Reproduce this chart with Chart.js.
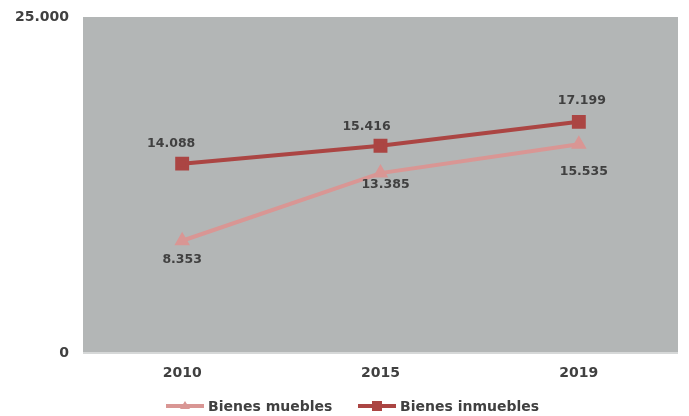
<!DOCTYPE html>
<html>
<head>
<meta charset="utf-8">
<script src="https://cdn.jsdelivr.net/npm/chart.js@4/dist/chart.umd.min.js"></script>
<style>
  html, body { margin: 0; padding: 0; background: #fff; }
  #wrap { width: 689px; height: 416px; }
</style>
</head>
<body>
<div id="wrap"><canvas id="myChart"></canvas></div>
<script>
var years = ["2010", "2015", "2019"];
var muebles = [8353, 13385, 15535];
var inmuebles = [14088, 15416, 17199];
var yTicks = [0, 25000];

var colMuebles = "#d99694";
var colInmuebles = "#ab4543";
var txt = "#404040";
var fontFam = "'DejaVu Sans', Verdana, sans-serif";

function fmt(v) {
  return v.toLocaleString("de-DE");
}

// label offsets per point [dx, dy]
var labelOffsets = [
  [[0, 19], [5, 12], [5, 28]],
  [[-11, -20], [-14, -19], [3, -21]]
];

var plotBg = {
  id: "plotBg",
  beforeDraw: function (chart) {
    var a = chart.chartArea, c = chart.ctx;
    c.save();
    c.fillStyle = "#b3b6b6";
    c.fillRect(a.left, a.top, a.right - a.left, a.bottom - a.top);
    c.fillStyle = "#d6d8d8";
    c.fillRect(a.left, a.bottom - 1, a.right - a.left, 2);
    c.restore();
  },
  afterDatasetsDraw: function (chart) {
    var c = chart.ctx;
    c.save();
    c.font = "bold 12.5px " + fontFam;
    c.fillStyle = txt;
    c.textAlign = "center";
    c.textBaseline = "middle";
    chart.data.datasets.forEach(function (ds, i) {
      chart.getDatasetMeta(i).data.forEach(function (pt, j) {
        var o = labelOffsets[i][j];
        c.fillText(fmt(ds.data[j]), pt.x + o[0], pt.y + o[1]);
      });
    });
    // legend
    var y = 406;
    var items = [[166, 0], [358, 1]];
    c.font = "bold 14px " + fontFam;
    c.textAlign = "left";
    items.forEach(function (it) {
      var ds = chart.data.datasets[it[1]];
      var x = it[0];
      c.strokeStyle = ds.borderColor;
      c.lineWidth = 4;
      c.beginPath();
      c.moveTo(x, y);
      c.lineTo(x + 38, y);
      c.stroke();
      c.fillStyle = ds.borderColor;
      if (ds.pointStyle === "rect") {
        c.fillRect(x + 19 - 5, y - 5, 10, 10);
      } else {
        c.beginPath();
        c.moveTo(x + 19, y - 5);
        c.lineTo(x + 24, y + 3);
        c.lineTo(x + 14, y + 3);
        c.closePath();
        c.fill();
      }
      c.fillStyle = txt;
      c.fillText(ds.label, x + 42, y + 1);
    });
    c.restore();
  }
};

var ctx = document.getElementById("myChart").getContext("2d");
var myChart = new Chart(ctx, {
  type: "line",
  data: {
    labels: years,
    datasets: [{
      label: "Bienes muebles",
      data: muebles,
      borderColor: colMuebles,
      backgroundColor: colMuebles,
      borderWidth: 4,
      pointStyle: "triangle",
      pointRadius: 5,
      pointHoverRadius: 5
    }, {
      label: "Bienes inmuebles",
      data: inmuebles,
      borderColor: colInmuebles,
      backgroundColor: colInmuebles,
      borderWidth: 4,
      pointStyle: "rect",
      pointRadius: 7,
      pointHoverRadius: 7
    }]
  },
  options: {
    responsive: true,
    maintainAspectRatio: false,
    animation: false,
    layout: { padding: { top: 17, right: 9, left: 0, bottom: 0 } },
    plugins: {
      legend: { display: false },
      tooltip: { enabled: false }
    },
    scales: {
      x: {
        offset: true,
        grid: { display: false, drawTicks: false },
        border: { display: false },
        ticks: {
          color: txt,
          padding: 12,
          font: { family: fontFam, size: 14, weight: "bold" }
        },
        afterFit: function (s) {
          s.height = 63;
          s.paddingLeft = 0;
          s.paddingRight = 0;
        }
      },
      y: {
        min: 0,
        max: 25000,
        grid: { display: false, drawTicks: false },
        border: { display: false },
        afterBuildTicks: function (s) {
          s.ticks = yTicks.map(function (v) { return { value: v }; });
        },
        ticks: {
          color: txt,
          padding: 14,
          font: { family: fontFam, size: 14, weight: "bold" },
          callback: function (v) { return fmt(v); }
        },
        afterFit: function (s) {
          s.width = 83;
          s.paddingTop = 0;
          s.paddingBottom = 0;
        }
      }
    }
  },
  plugins: [plotBg]
});
</script>
</body>
</html>
